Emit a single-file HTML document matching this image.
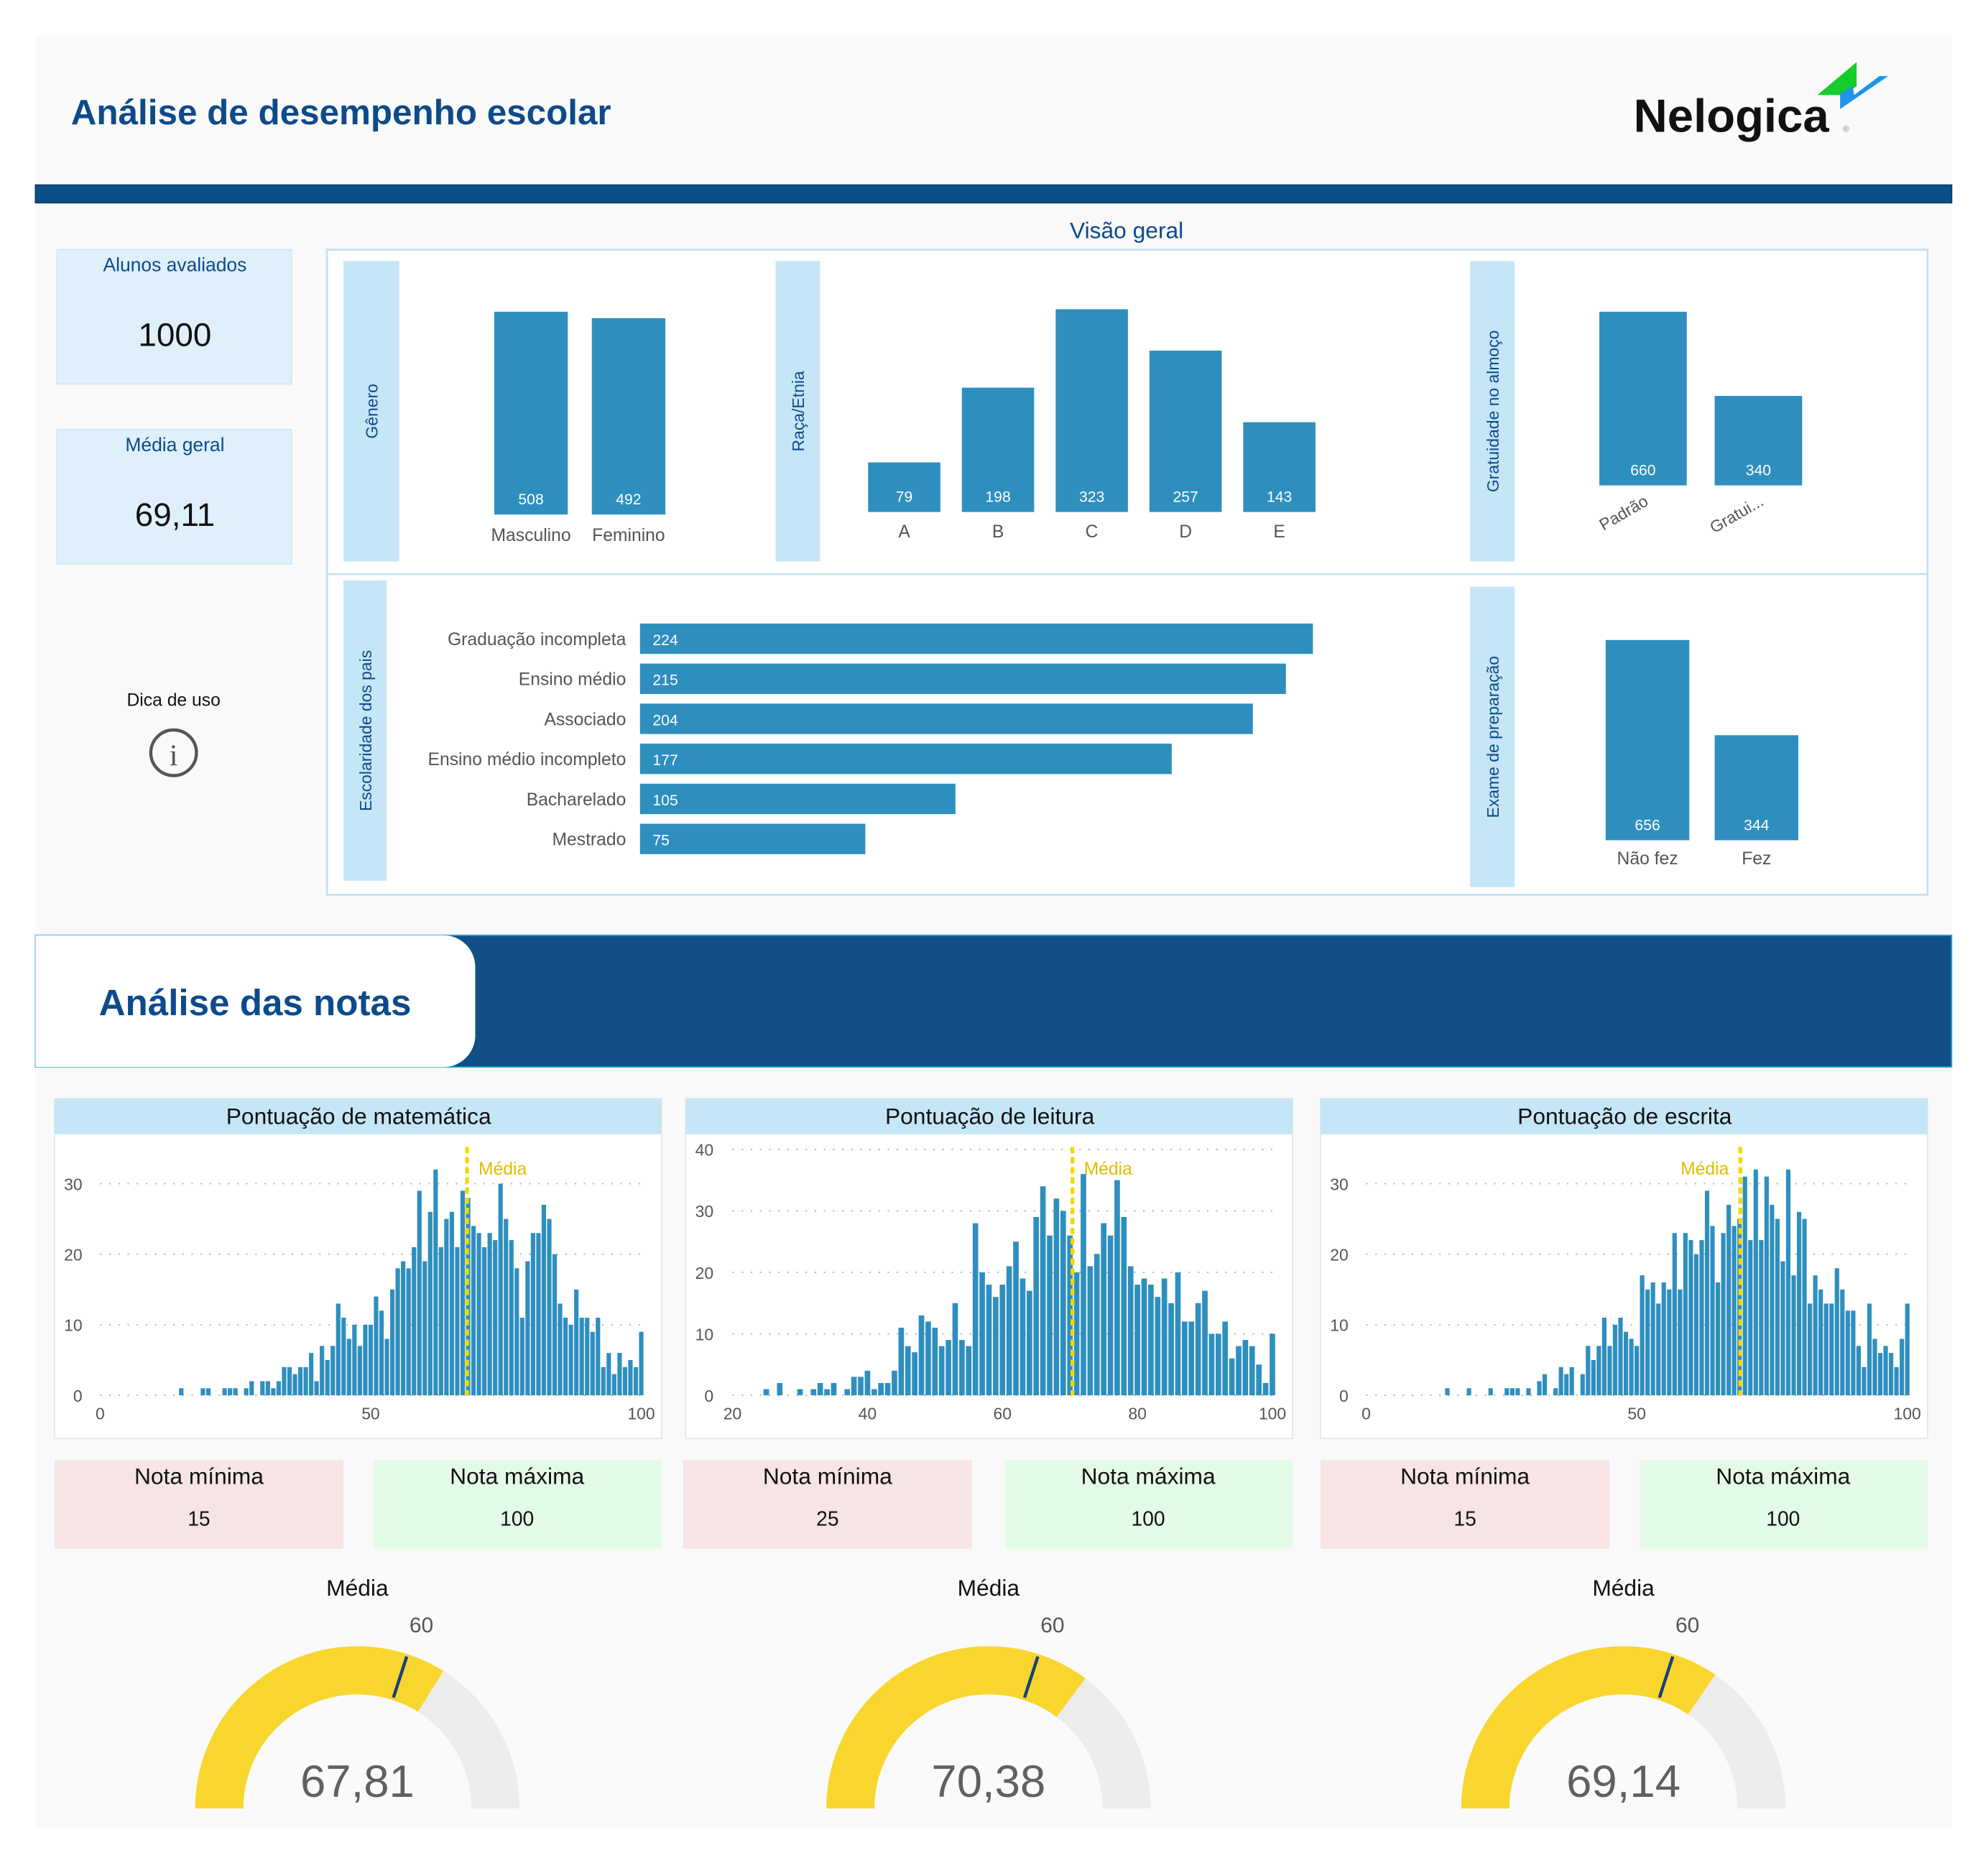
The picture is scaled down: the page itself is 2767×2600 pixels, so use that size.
<!DOCTYPE html>
<html><head><meta charset="utf-8">
<style>
html,body{margin:0;padding:0;background:#fff;}
body{width:2767px;height:2600px;overflow:hidden;}
svg{display:block;font-family:"Liberation Sans",sans-serif;}
</style></head>
<body>
<svg id="dash" width="2767" height="2600" viewBox="0 0 1568 1474" preserveAspectRatio="xMinYMin meet" xmlns="http://www.w3.org/2000/svg">
<rect x="0" y="0" width="1568" height="1474" fill="#ffffff"/>
<rect x="28" y="28" width="1512" height="1414" fill="#f9f9f9"/>
<rect x="28" y="28" width="1512" height="117" fill="#fafafa"/>
<text x="56" y="98" font-size="28" font-weight="bold" fill="#0d4a8a">Análise de desempenho escolar</text>
<g>
<text x="1289" y="104" font-size="37" font-weight="bold" fill="#111">Nelogica</text>
<text x="1454" y="104" font-size="7" fill="#888">®</text>
<polygon points="1434,75 1465,49 1465,68 1455,75" fill="#14cc2a"/>
<polygon points="1452,86 1452,74 1462,68 1463,75 1483,60 1490,60" fill="#1d95e8"/>
</g>
<rect x="28" y="146" width="1512" height="14" fill="#0b4f8a" stroke="#073a66" stroke-width="1"/>
<rect x="45" y="197" width="185" height="106" fill="#dff0fb" stroke="#cde6f5"/>
<text x="138" y="214" font-size="15" text-anchor="middle" fill="#0d4a8a">Alunos avaliados</text>
<text x="138" y="273" font-size="26" text-anchor="middle" fill="#111">1000</text>
<rect x="45" y="339" width="185" height="106" fill="#dff0fb" stroke="#cde6f5"/>
<text x="138" y="356" font-size="15" text-anchor="middle" fill="#0d4a8a">Média geral</text>
<text x="138" y="415" font-size="26" text-anchor="middle" fill="#111">69,11</text>
<text x="137" y="557" font-size="14" text-anchor="middle" fill="#111">Dica de uso</text>
<g>
<circle cx="137" cy="594" r="18" fill="none" stroke="#555" stroke-width="2.5"/>
<text x="137" y="604" font-size="24" text-anchor="middle" fill="#555" font-family="Liberation Serif,serif">i</text>
</g>
<text x="889" y="188" font-size="18" text-anchor="middle" fill="#0d4a8a">Visão geral</text>
<rect x="258" y="197" width="1263" height="509" fill="#fff" stroke="#c5dff0" stroke-width="1.5"/>
<line x1="258" y1="453" x2="1521" y2="453" stroke="#c5dff0" stroke-width="1.5"/>
<g id="ov"></g>
<rect x="28" y="738" width="1512" height="104" fill="#124f86" stroke="#2aa8e0" stroke-width="1"/>
<path d="M28,738 H350 A25,25 0 0 1 375,763 V817 A25,25 0 0 1 350,842 H28 Z" fill="#ffffff"/>
<text x="78" y="801" font-size="29" font-weight="bold" fill="#0d4a8a">Análise das notas</text>
<g id="sc"></g>
</svg>
<script>
const genderCats = ["Masculino","Feminino"];
const genderVals = [508,492];
const raceCats = ["A","B","C","D","E"];
const raceVals = [79,198,323,257,143];
const lunchCats = ["Padrão","Gratui..."];
const lunchVals = [660,340];
const eduCats = ["Graduação incompleta","Ensino médio","Associado","Ensino médio incompleto","Bacharelado","Mestrado"];
const eduVals = [224,215,204,177,105,75];
const prepCats = ["Não fez","Fez"];
const prepVals = [656,344];
const mathScores = [15,19,20,23,24,25,27,28,30,31,32,33,34,35,36,37,38,39,40,41,42,43,44,45,46,47,48,49,50,51,52,53,54,55,56,57,58,59,60,61,62,63,64,65,66,67,68,69,70,71,72,73,74,75,76,77,78,79,80,81,82,83,84,85,86,87,88,89,90,91,92,93,94,95,96,97,98,99,100];
const mathCounts = [1,1,1,1,1,1,1,2,2,2,1,2,4,4,3,4,4,6,2,7,5,7,13,11,8,10,7,10,10,14,12,8,15,18,19,18,21,29,19,26,32,21,25,26,21,29,28,24,23,21,23,22,30,25,22,18,11,19,23,23,27,25,20,13,11,10,15,11,11,9,11,4,6,3,6,4,5,4,9];
const readScores = [25,27,30,32,33,34,35,37,38,39,40,41,42,43,44,45,46,47,48,49,50,51,52,53,54,55,56,57,58,59,60,61,62,63,64,65,66,67,68,69,70,71,72,73,74,75,76,77,78,79,80,81,82,83,84,85,86,87,88,89,90,91,92,93,94,95,96,97,98,99,100];
const readCounts = [1,2,1,1,2,1,2,1,3,3,4,1,2,2,4,11,8,7,13,12,11,8,9,15,9,8,28,20,18,16,18,21,25,19,17,29,34,26,32,30,26,20,36,21,23,28,26,35,29,21,18,19,18,16,19,15,20,12,12,15,17,10,10,12,6,8,9,8,5,2,10];
const writeScores = [15,19,23,26,27,28,30,32,33,35,36,37,38,40,41,42,43,44,45,46,47,48,49,50,51,52,53,54,55,56,57,58,59,60,61,62,63,64,65,66,67,68,69,70,71,72,73,74,75,76,77,78,79,80,81,82,83,84,85,86,87,88,89,90,91,92,93,94,95,96,97,98,99,100];
const writeCounts = [1,1,1,1,1,1,1,2,3,1,4,3,4,3,7,5,7,11,7,10,11,9,8,7,17,15,16,13,16,15,23,15,23,22,20,22,29,24,16,23,27,24,25,31,22,32,22,31,27,25,19,32,17,26,25,13,17,15,13,13,18,15,12,12,7,4,13,8,6,7,6,4,8,13];
const panelTitles = ["Pontuação de matemática","Pontuação de leitura","Pontuação de escrita"];
const meanVals = [67.81,70.38,69.14];
const minVals = [15,25,15];
const maxVals = [100,100,100];
const xTicksMath = [0,50,100];
const xTicksRead = [20,40,60,80,100];
const xTicksWrite = [0,50,100];
const yTicks30 = [0,10,20,30];
const yTicks40 = [0,10,20,30,40];
const gaugeTarget = 60;

const NS="http://www.w3.org/2000/svg";
function mk(parent,tag,attrs,txt){const e=document.createElementNS(NS,tag);for(const k in attrs)e.setAttribute(k,attrs[k]);if(txt!==undefined)e.textContent=txt;parent.appendChild(e);return e;}
const BLUE="#2e8fbf", LBL="#555";
const ov=document.getElementById('ov');

const strips=[["Gênero",271,206,44,237,"gender-axis-label"],["Raça/Etnia",612,206,35,237,"race-axis-label"],["Gratuidade no almoço",1160,206,35,237,"lunch-axis-label"],["Escolaridade dos pais",271,458,34,237,"education-axis-label"],["Exame de preparação",1160,463,35,237,"prep-axis-label"]];
strips.forEach(s=>{
  const g=mk(ov,'g',{});
  
  
  mk(g,'rect',{x:s[1],y:s[2],width:s[3],height:s[4],fill:"#c5e6f7"});
  const cx=s[1]+s[3]/2+5, cy=s[2]+s[4]/2;
  mk(g,'text',{x:cx,y:cy,"font-size":13,"text-anchor":"middle",fill:"#0d4a8a",transform:`rotate(-90 ${cx} ${cy})`},s[0]);
});

function vbars(cats,vals,x0,step,w,base,pxPerUnit,labY,name,rot){
  cats.forEach((c,i)=>{
    const h=vals[i]*pxPerUnit, x=x0+i*step;
    const r=mk(ov,'rect',{x:x,y:base-h,width:w,height:h,fill:BLUE});
    
    
    const v=mk(ov,'text',{x:x+w/2,y:base-8,"font-size":12,"text-anchor":"middle",fill:"#fff"},String(vals[i]));
    
    
    let t;
    if(rot){t=mk(ov,'text',{x:x+w/2+5,y:labY,"font-size":13,"text-anchor":"end",fill:LBL,transform:`rotate(-30 ${x+w/2+5} ${labY})`},c);}
    else t=mk(ov,'text',{x:x+w/2,y:labY,"font-size":14,"text-anchor":"middle",fill:LBL},c);
    
    
  });
}
vbars(genderCats,genderVals,390,77,58,406,160/508,427,'gender',false);
vbars(raceCats,raceVals,685,74,57,404,160/323,424,'race',false);
vbars(lunchCats,lunchVals,1262,91,69,383,137/660,398,'lunch',true);
vbars(prepCats,prepVals,1267,86,66,663,158/656,682,'prep',false);
eduCats.forEach((c,i)=>{
  const cy=504+i*31.6, w=eduVals[i]*(531/224);
  const r=mk(ov,'rect',{x:505,y:cy-12,width:w,height:24,fill:BLUE});
  
  
  const v=mk(ov,'text',{x:515,y:cy+5,"font-size":12,fill:"#fff"},String(eduVals[i]));
  
  
  const t=mk(ov,'text',{x:494,y:cy+5,"font-size":14,"text-anchor":"end",fill:LBL},c);
  
  
});

const sc=document.getElementById('sc');
const panels=[
 {x:43,scores:mathScores,counts:mathCounts,xmin:0,xmax:100,x0:79,x1:506,ymax:30,yTop:934,xt:xTicksMath,yt:yTicks30,labLeft:false,key:'math'},
 {x:541,scores:readScores,counts:readCounts,xmin:20,xmax:100,x0:578,x1:1004,ymax:40,yTop:907,xt:xTicksRead,yt:yTicks40,labLeft:false,key:'reading'},
 {x:1042,scores:writeScores,counts:writeCounts,xmin:0,xmax:100,x0:1078,x1:1505,ymax:30,yTop:934,xt:xTicksWrite,yt:yTicks30,labLeft:true,key:'writing'}
];
const minX=[43,539,1042], maxX=[295,793,1294];
panels.forEach((p,k)=>{
  const base=1101;
  const xs=v=>p.x0+(v-p.xmin)/(p.xmax-p.xmin)*(p.x1-p.x0);
  const ys=v=>base-v/p.ymax*(base-p.yTop);
  const card=mk(sc,'rect',{x:p.x,y:867,width:479,height:268,fill:"#fff",stroke:"#e6e6e6"});
  
  
  mk(sc,'rect',{x:p.x,y:867,width:479,height:28,fill:"#c5e6f7"});
  const tt=mk(sc,'text',{x:p.x+240,y:887,"font-size":18,"text-anchor":"middle",fill:"#111"},panelTitles[k]);
  
  
  p.yt.forEach(t=>{
    mk(sc,'line',{x1:p.x0,x2:p.x1,y1:ys(t),y2:ys(t),stroke:"#bbb","stroke-width":1.2,"stroke-dasharray":"1.2 6"});
    const l=mk(sc,'text',{x:p.x+22,y:ys(t)+5,"font-size":13,"text-anchor":"end",fill:LBL},String(t));
    
    
  });
  p.xt.forEach(t=>{
    const l=mk(sc,'text',{x:xs(t),y:1120,"font-size":13,"text-anchor":"middle",fill:LBL},String(t));
    
    
  });
  const unit=(p.x1-p.x0)/(p.xmax-p.xmin), bw=unit*0.82;
  p.scores.forEach((s,i)=>{
    const y=ys(p.counts[i]);
    const r=mk(sc,'rect',{x:xs(s)-bw/2,y:y,width:bw,height:base-y,fill:BLUE});
    
    
  });
  const mx=xs(meanVals[k]);
  const ml=mk(sc,'line',{x1:mx,x2:mx,y1:905,y2:base,stroke:"#f5d800","stroke-width":3,"stroke-dasharray":"5 3"});
  
  
  const mt=mk(sc,'text',{x:p.labLeft?mx-9:mx+9,y:927,"font-size":14,"text-anchor":p.labLeft?"end":"start",fill:"#e0bd00"},"Média");
  
  
  const mn=mk(sc,'rect',{x:minX[k],y:1152,width:228,height:70,fill:"#f7e4e4"});
  
  
  mk(sc,'text',{x:minX[k]+114,y:1171,"font-size":18,"text-anchor":"middle",fill:"#111"},"Nota mínima");
  mk(sc,'text',{x:minX[k]+114,y:1204,"font-size":16,"text-anchor":"middle",fill:"#111"},String(minVals[k]));
  const mxc=mk(sc,'rect',{x:maxX[k],y:1152,width:227,height:70,fill:"#e3fbe6"});
  
  
  mk(sc,'text',{x:maxX[k]+113,y:1171,"font-size":18,"text-anchor":"middle",fill:"#111"},"Nota máxima");
  mk(sc,'text',{x:maxX[k]+113,y:1204,"font-size":16,"text-anchor":"middle",fill:"#111"},String(maxVals[k]));
  const gx=[43,541,1042][k];
  const gc=mk(sc,'rect',{x:gx,y:1238,width:479,height:202,fill:"#fafafa"});
  
  
  const cx=gx+239, cy=1427, R=128, r0=90;
  mk(sc,'text',{x:cx,y:1259,"font-size":18,"text-anchor":"middle",fill:"#111"},"Média");
  const pt=(f,rr)=>{const a=Math.PI*(1-f);return [cx+rr*Math.cos(a),cy-rr*Math.sin(a)];};
  const arc=(f0,f1)=>{const a=pt(f0,R),b=pt(f1,R),c=pt(f1,r0),d=pt(f0,r0);return `M${a[0]},${a[1]} A${R},${R} 0 0 1 ${b[0]},${b[1]} L${c[0]},${c[1]} A${r0},${r0} 0 0 0 ${d[0]},${d[1]} Z`;};
  const bg=mk(sc,'path',{d:arc(0,1),fill:"#ececec"});
  
  
  const fg=mk(sc,'path',{d:arc(0,meanVals[k]/100),fill:"#f8d62e"});
  
  
  const t1=pt(gaugeTarget/100,r0+2),t2=pt(gaugeTarget/100,R-2),t3=pt(gaugeTarget/100,R+16);
  const tl=mk(sc,'line',{x1:t1[0],y1:t1[1],x2:t2[0],y2:t2[1],stroke:"#1b3f7a","stroke-width":2.5});
  
  
  mk(sc,'text',{x:t3[0]+6,y:t3[1]-2,"font-size":17,"text-anchor":"middle",fill:LBL},String(gaugeTarget));
  const gv=mk(sc,'text',{x:cx,y:1418,"font-size":36,"text-anchor":"middle",fill:"#606060"},meanVals[k].toFixed(2).replace('.',','));
  
  
});
</script>
</body></html>
